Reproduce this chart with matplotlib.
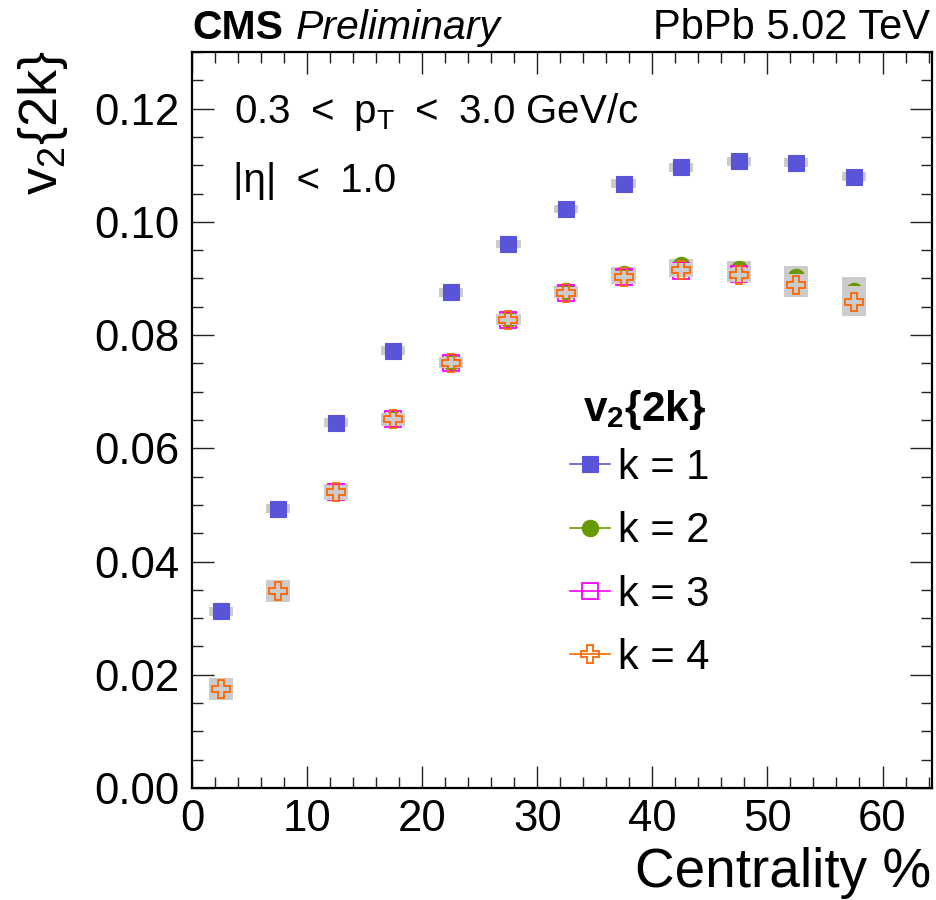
import matplotlib
matplotlib.use("Agg")
import matplotlib.pyplot as plt
from matplotlib.lines import Line2D
import numpy as np

plt.rcParams['font.family'] = ['Liberation Sans', 'DejaVu Sans']
plt.rcParams['mathtext.fontset'] = 'custom'
plt.rcParams['mathtext.rm'] = 'Liberation Sans'
plt.rcParams['mathtext.it'] = 'Liberation Sans:italic'
plt.rcParams['mathtext.bf'] = 'Liberation Sans:bold'

# ---- data ----
centrality = [2.5, 7.5, 12.5, 17.5, 22.5, 27.5, 32.5, 37.5, 42.5, 47.5, 52.5, 57.5]
v2_k1 = [0.0312, 0.0493, 0.0645, 0.0772, 0.0876, 0.0961, 0.1023, 0.1067, 0.1096, 0.1107, 0.1104, 0.1080]
v2_k2 = [0.0176, 0.0349, 0.0523, 0.0652, 0.0752, 0.0828, 0.0877, 0.0908, 0.0923, 0.0917, 0.0902, 0.0878]
v2_k3 = [0.0175, 0.0348, 0.0522, 0.0651, 0.0751, 0.0827, 0.0875, 0.0902, 0.0914, 0.0907, 0.0888, 0.0861]
v2_k4 = [0.0175, 0.0348, 0.0522, 0.0651, 0.0751, 0.0827, 0.0875, 0.0902, 0.0915, 0.0906, 0.0888, 0.0858]
sys_k1 = [0.0008, 0.0008, 0.0008, 0.0008, 0.0008, 0.0007, 0.0007, 0.0008, 0.0008, 0.0008, 0.0008, 0.0008]
sys_k234 = [0.0019, 0.0019, 0.0014, 0.0011, 0.0010, 0.0010, 0.0010, 0.0012, 0.0012, 0.0013, 0.0020, 0.0025]
labels = ['k = 1', 'k = 2', 'k = 3', 'k = 4']

W, H = 936, 900
fig = plt.figure(figsize=(W/100, H/100), dpi=100)
ax = fig.add_axes([192/W, (H-788)/H, (932-192)/W, (788-52)/H])

x = np.array(centrality)
series = [
    (v2_k1, sys_k1, dict(marker='s', ms=12.2, mfc='#5a55d8', mec='#5a55d8', mew=0.8, color='#5a55d8')),
    (v2_k2, sys_k234, dict(marker='o', ms=11.8, mfc='#669900', mec='#669900', mew=0.8, color='#669900')),
    (v2_k3, sys_k234, dict(marker='s', ms=11.6, mfc='none', mec='#ff00ff', mew=1.3, color='#ff00ff')),
    (v2_k4, sys_k234, dict(marker='P', ms=13.5, mfc='none', mec='#ff6600', mew=1.3, color='#ff6600')),
]
handles = []
for i, (vals, sys, st) in enumerate(series):
    v = np.array(vals); s = np.array(sys)
    ax.bar(x, 2*s, bottom=v - s, width=2.1, color='#cccccc', linewidth=0, zorder=2+2*i)
    ax.plot(x, v, linestyle='none', zorder=3+2*i, **st)
    handles.append(Line2D([], [], linestyle='-', linewidth=1.2, **st))

ax.set_xlim(0, 64.3)
ax.set_ylim(0, 0.13)
ax.set_xticks([0, 10, 20, 30, 40, 50, 60])
ax.set_xticks(np.arange(0, 64.3, 2), minor=True)
ax.set_yticks([0, 0.02, 0.04, 0.06, 0.08, 0.10, 0.12])
ax.set_yticklabels(['0.00', '0.02', '0.04', '0.06', '0.08', '0.10', '0.12'])
ax.set_yticks(np.arange(0, 0.1301, 0.005), minor=True)
ax.tick_params(which='both', direction='in', top=True, right=True, labelsize=31.5, width=1.0, color='#222222')
ax.tick_params(which='major', length=16)
ax.tick_params(which='minor', length=8)
ax.tick_params(axis='x', pad=8)
ax.tick_params(axis='y', pad=9)
for sp in ax.spines.values():
    sp.set_linewidth(1.6)

def px(xp, yp):
    return xp/W, 1 - yp/H

fig.text(*px(931, 887), 'Centrality %', fontsize=39.5, ha='right', va='baseline')
fig.text(*px(57, 195), r'v$_\mathregular{2}${2k}', fontsize=39, rotation=90,
         rotation_mode='anchor', ha='left', va='baseline')

fig.text(*px(192, 39), 'CMS', fontsize=29.5, fontweight='bold', va='baseline')
fig.text(*px(296, 39), 'Preliminary', fontsize=29.5, fontstyle='italic', va='baseline')
fig.text(*px(930, 39), 'PbPb 5.02 TeV', fontsize=30, ha='right', va='baseline')

en = '\u2002'
fig.text(*px(234, 123), '0.3' + en + '<' + en + r'p$_\mathregular{T}$' + en + '<' + en + '3.0 GeV/c',
         fontsize=29, va='baseline')
fig.text(*px(233, 192), '|η|' + en + '<' + en + '1.0', fontsize=29, va='baseline')

fig.text(*px(583, 421), r'v$_\mathbf{2}${2k}', fontsize=30.5, fontweight='bold', va='baseline')
leg = ax.legend(handles, labels, loc='upper left', bbox_to_anchor=px(570, 448),
                bbox_transform=fig.transFigure, frameon=False, fontsize=30,
                handlelength=0.96, handletextpad=0.18, labelspacing=0.56,
                borderpad=0, borderaxespad=0)

fig.savefig('out.png', dpi=100)
